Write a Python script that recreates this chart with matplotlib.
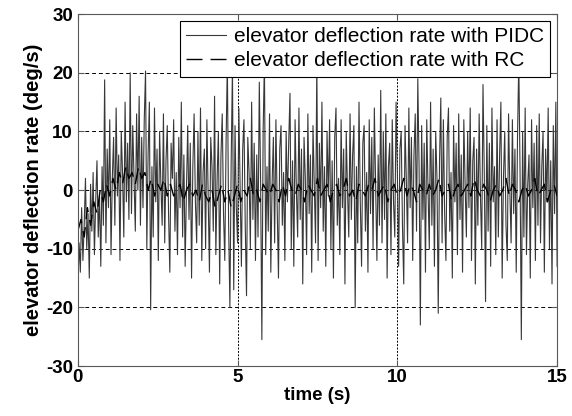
import numpy as np
import matplotlib
matplotlib.use("Agg")
import matplotlib.pyplot as plt

plt.rcParams["font.family"] = ["Liberation Sans", "DejaVu Sans"]
plt.rcParams["axes.unicode_minus"] = False

# elevator deflection rate with PIDC (deg/s), sampled every 0.04 s
DT_PIDC = 0.04
pidc = [
    -17, -9, -14, -3, -12, -6, 2, -10, -4, -15, 1, -7, 3, -11, -2, 5, -8, -1, -13, 4,
    -6, 18.8, -9, 7, -3, 12, -11, 2, 9, -6, 14, -1, 6, -12, 10, 3, -8, 15, -2, 8,
    -5, 20, -4, 11, 2, -7, 13, 0, 16, -6, 9, -3, 12, 20.3, -10, 6, 15, -20.4, 4, -8,
    14, -2, 7, -12, 10, 1, -6, 13, -9, 5, 11, -4, -14, 8, 2, 12, -7, 3, -11, 9,
    -3, 15, -8, 6, -13, 0, 11, -5, 8, -15, 4, 13, -2, -9, 10, -6, 14, -12, 3, 7,
    -10, 12, -1, -14, 9, 4, -7, 16, -11, 2, 10, -16, 6, 13, -4, -12, 8, 22, -6, -20,
    5, 21, -17, 11, -3, -9, 14, 0, -13, 7, 12, -6, -18, 9, 3, -10, 15, -5, 8, -12,
    6, -8, 18.4, 2, -25.5, 10, 22, -11, 4, -7, 13, -14, 1, 9, -9, 12, -3, -15, 7, 11,
    -6, 3, -12, 10, -2, 8, 16.5, -10, 5, -13, 12, 0, -8, 14, -5, 7, -16, 9, 2, -11,
    13, -4, 6, -14, 11, 1, -9, 22, -12, 8, -3, 15, -7, 4, -13, 10, -1, 12, -10, 5,
    -15, 9, 14, -6, 2, -11, 12, -3, 7, -16, 10, 0, -8, 13, -5, 6, 11, -20, 4, -9,
    15, -2, -13, 8, 11, -7, 3, -14, 12, -4, 9, -10, 14, 1, -12, 6, -6, 17, -9, 10,
    -5, 13, -15, 4, 8, -11, 12, -2, -8, 15, 3, -13, 7, 10, -6, -16, 11, 2, -9, 14,
    -3, 9, -12, 6, 13, -7, 19, 4, -23, 11, -5, 8, -14, 12, 0, -10, 15, -6, 7, -13,
    10, 2, -21, 5, 15.7, -9, 12, -4, -12, 9, 14, -7, 3, -15, 11, -2, 8, -11, 13, -5,
    6, -14, 12, 1, -8, 10, -3, 14, -12, 5, 9, -16, 7, -6, 13, -1, -10, 18, 3, -19,
    11, -7, 8, -13, 14, -2, 4, -11, 12, -8, 6, 15, -15, 2, 10, -6, -12, 13, 0, -9,
    12, -4, 7, -14, 9, 22, 3, -25.5, 10, -8, 14, -11, 1, 6, -15, 12, -3, 8, -12, 11,
    -6, 13, -9, 4, 10, -14, 7, -2, 14, -10, 5, -16, 11, -4, 15, -13,
]

# elevator deflection rate with RC (deg/s), sampled every 0.1 s
DT_RC = 0.1
rc = [
    -7, -5, -8, -3, -6, -2, -4, 0, -2, 1,
    -1, 2, 0, 3, 1, 4, 2, 3, 1, 4,
    2, 3, 0, 2, -1, 1, 0, 2, -1, 1,
    -1, 0, 1, -2, 0, 1, -1, 0, -2, 1,
    -1, -2, 0, -3, -1, 1, -2, 0, -3, -1,
    1, -2, 0, -1, 2, -1, 0, -2, 1, 0,
    -1, 1, 0, -2, 1, -1, 2, 0, -1, 1,
    0, -2, 1, 0, -1, 2, -1, 0, 1, -2,
    0, 1, -1, 0, 2, -1, 0, -2, 1, 0,
    -1, 1, 0, 2, -1, 0, 1, -2, 0, 1,
    -1, 0, 2, -1, 1, 0, -2, 1, 0, -1,
    1, -1, 0, 2, -1, 0, 1, -2, 0, 1,
    -1, 0, 1, -1, 2, 0, -1, 1, 0, -2,
    0, 1, -1, 0, 2, -1, 1, 0, -2, 0,
    1, -1, 0, 2, -1, 0, 1, -2, 0, 1,
    -1,
]

x_ticks = [0, 5, 10, 15]
y_ticks = [-30, -20, -10, 0, 10, 20, 30]

t_pidc = np.arange(len(pidc)) * DT_PIDC
t_rc = np.arange(len(rc)) * DT_RC

fig = plt.figure(figsize=(5.72, 4.16), dpi=100)
ax = fig.add_axes([0.136, 0.120, 0.838, 0.846])

ax.plot(t_pidc, pidc, color="0.22", lw=0.8,
        label="elevator deflection rate with PIDC")
ax.plot(t_rc, rc, color="black", lw=1.0, ls=(0, (11.5, 5.8)),
        label="elevator deflection rate with RC")

ax.set_xlim(0, 15)
ax.set_ylim(-30, 30)
ax.set_xticks(x_ticks)
ax.set_yticks(y_ticks)
ax.tick_params(direction="in", length=4, labelsize=13.5, width=0.8,
               top=True, right=True, color="0.35")
ax.tick_params(axis="x", pad=2)
for lbl in ax.get_xticklabels() + ax.get_yticklabels():
    lbl.set_fontweight("bold")
ax.yaxis.grid(True, color="black", ls=(0, (4, 3)), lw=0.7)
ax.xaxis.grid(True, color="black", ls=(0, (2, 1.5)), lw=0.7)
for s in ax.spines.values():
    s.set_color("0.35")
    s.set_linewidth(0.8)

ax.set_xlabel("time (s)", fontsize=13.5, fontweight="bold", labelpad=1)
ax.set_ylabel("elevator deflection rate (deg/s)", fontsize=14.5,
              fontweight="bold", labelpad=2)

leg = ax.legend(loc="upper right", fontsize=15, fancybox=False, framealpha=1,
                edgecolor="black", borderaxespad=0.32, handlelength=1.92,
                borderpad=0.3, labelspacing=0.25, handletextpad=0.4)
leg.get_frame().set_linewidth(0.8)

fig.savefig("out.png", dpi=100)
